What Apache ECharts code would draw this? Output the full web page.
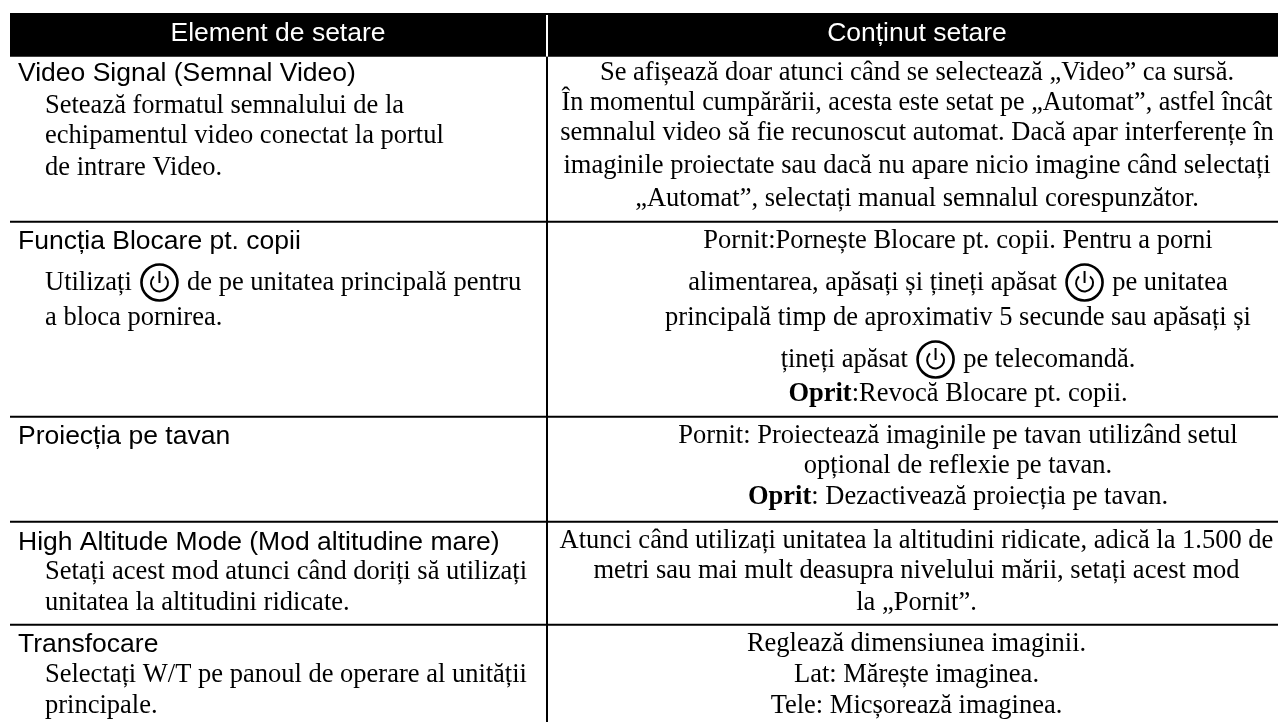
<!DOCTYPE html>
<html><head><meta charset="utf-8">
<style>html,body{margin:0;padding:0;background:#fff;overflow:hidden}#c{width:1278px;height:722px}</style>
<script src="https://cdn.jsdelivr.net/npm/echarts@6/dist/echarts.min.js"></script>
</head><body><div id="c"></div>
<script>
// Table content. "@" marks the power icon, *...* marks bold text.
const headers = ["Element de setare", "Conținut setare"];
const settingTitles = [
  "Video Signal (Semnal Video)",
  "Funcția Blocare pt. copii",
  "Proiecția pe tavan",
  "High Altitude Mode (Mod altitudine mare)",
  "Transfocare"
];
const settingNotes = [
  ["Setează formatul semnalului de la", "echipamentul video conectat la portul", "de intrare Video."],
  ["Utilizați @ de pe unitatea principală pentru", "a bloca pornirea."],
  [],
  ["Setați acest mod atunci când doriți să utilizați", "unitatea la altitudini ridicate."],
  ["Selectați W/T pe panoul de operare al unității", "principale."]
];
const settingContent = [
  ["Se afișează doar atunci când se selectează „Video” ca sursă.",
   "În momentul cumpărării, acesta este setat pe „Automat”, astfel încât",
   "semnalul video să fie recunoscut automat. Dacă apar interferențe în",
   "imaginile proiectate sau dacă nu apare nicio imagine când selectați",
   "„Automat”, selectați manual semnalul corespunzător."],
  ["Pornit:Pornește Blocare pt. copii. Pentru a porni",
   "alimentarea, apăsați și țineți apăsat @ pe unitatea",
   "principală timp de aproximativ 5 secunde sau apăsați și",
   "țineți apăsat @ pe telecomandă.",
   "*Oprit*:Revocă Blocare pt. copii."],
  ["Pornit: Proiectează imaginile pe tavan utilizând setul",
   "opțional de reflexie pe tavan.",
   "*Oprit*: Dezactivează proiecția pe tavan."],
  ["Atunci când utilizați unitatea la altitudini ridicate, adică la 1.500 de",
   "metri sau mai mult deasupra nivelului mării, setați acest mod",
   "la „Pornit”."],
  ["Reglează dimensiunea imaginii.",
   "Lat: Mărește imaginea.",
   "Tele: Micșorează imaginea."]
];

// Layout, kept apart from the content.
const W = 1278, H = 722;
const tableLeft = 10, colX = 547, leftNoteX = 45;
const contentCenter = [917, 958, 958, 916.5, 916.5];
const headTop = 13, headBottom = 56.7;
const rowLines = [221.7, 416.7, 521.7, 624.7];
const titleY = [72, 240, 435, 541, 643];
const noteY = [[105, 135, 167], [282, 317], [], [571, 601.7], [674, 705]];
const contentY = [[72, 102, 132, 165, 198], [240, 282, 317, 359, 393], [435, 465, 496], [540, 570, 601.7], [643, 674, 705]];
const contentFit = { "0,1": 0.985 };
const SANS = '"Liberation Sans"', SERIF = '"Liberation Serif"';
const sansSize = 26.5, serifSize = 26.5;
const sansShift = 2, serifShift = 1;
const iconW = 38, iconGap = 2;

const ctx = document.createElement('canvas').getContext('2d');
function measure(t, bold) { ctx.font = (bold ? 'bold ' : '') + serifSize + 'px ' + SERIF; return ctx.measureText(t).width; }
function pieces(line) {
  const out = [];
  line.split(/(@|\*[^*]+\*)/).forEach(p => {
    if (!p) return;
    if (p === '@') out.push({ icon: true, w: iconW + 2 * iconGap });
    else if (p[0] === '*') { const t = p.slice(1, -1); out.push({ t, bold: true, w: measure(t, true) }); }
    else out.push({ t: p, bold: false, w: measure(p, false) });
  });
  return out;
}
const els = [];
function text(t, x, y, font, size, align, color, weight, fit) {
  const el = { type: 'text', silent: true, style: { text: t, x, y, fill: color || '#000', font: (weight || 'normal') + ' ' + size + 'px ' + font, textAlign: align || 'left', textVerticalAlign: 'middle' } };
  if (fit) { el.scaleX = fit; el.originX = x; el.originY = y; }
  els.push(el);
}
function icon(cx, cy) {
  els.push({ type: 'circle', silent: true, shape: { cx, cy: cy + 0.5, r: 18 }, style: { fill: '#fff', stroke: '#000', lineWidth: 2.6 } });
  els.push({ type: 'arc', silent: true, shape: { cx, cy: cy + 1, r: 8.5, startAngle: -Math.PI / 2 + 0.7, endAngle: -Math.PI / 2 - 0.7, clockwise: true }, style: { fill: null, stroke: '#000', lineWidth: 2 } });
  els.push({ type: 'line', silent: true, shape: { x1: cx, y1: cy - 11, x2: cx, y2: cy + 1 }, style: { stroke: '#000', lineWidth: 2 } });
}
function serifLine(line, x, y, center, fit) {
  const ps = pieces(line);
  const k = fit || 1;
  const total = ps.reduce((s, p) => s + p.w, 0) * k;
  let cur = center ? x - total / 2 : x;
  ps.forEach(p => {
    if (p.icon) icon(cur + p.w / 2, y);
    else text(p.t, cur, y + serifShift, SERIF, serifSize, 'left', '#000', p.bold ? 'bold' : 'normal', fit);
    cur += p.w * k;
  });
}
function rule(x1, y1, x2, y2, lw, color) {
  els.push({ type: 'line', silent: true, shape: { x1, y1, x2, y2 }, style: { stroke: color || '#000', lineWidth: lw } });
}

els.push({ type: 'rect', silent: true, shape: { x: tableLeft, y: headTop, width: W - tableLeft, height: headBottom - headTop }, style: { fill: '#000' } });
rule(colX, headTop + 2, colX, headBottom, 2, '#fff');
rule(colX, headBottom, colX, H, 2);
rowLines.forEach(y => rule(tableLeft, y, W, y, 2));
text(headers[0], 278, 32 + sansShift, SANS, sansSize, 'center', '#fff');
text(headers[1], 917, 32 + sansShift, SANS, sansSize, 'center', '#fff');
settingTitles.forEach((t, i) => {
  text(t, 18, titleY[i] + sansShift, SANS, sansSize);
  settingNotes[i].forEach((l, j) => serifLine(l, leftNoteX, noteY[i][j], false));
  settingContent[i].forEach((l, j) => serifLine(l, contentCenter[i], contentY[i][j], true, contentFit[i + ',' + j]));
});

const chart = echarts.init(document.getElementById('c'), null, { renderer: 'canvas', width: W, height: H });
chart.setOption({ animation: false, backgroundColor: '#fff', graphic: { elements: els } });
</script></body></html>
